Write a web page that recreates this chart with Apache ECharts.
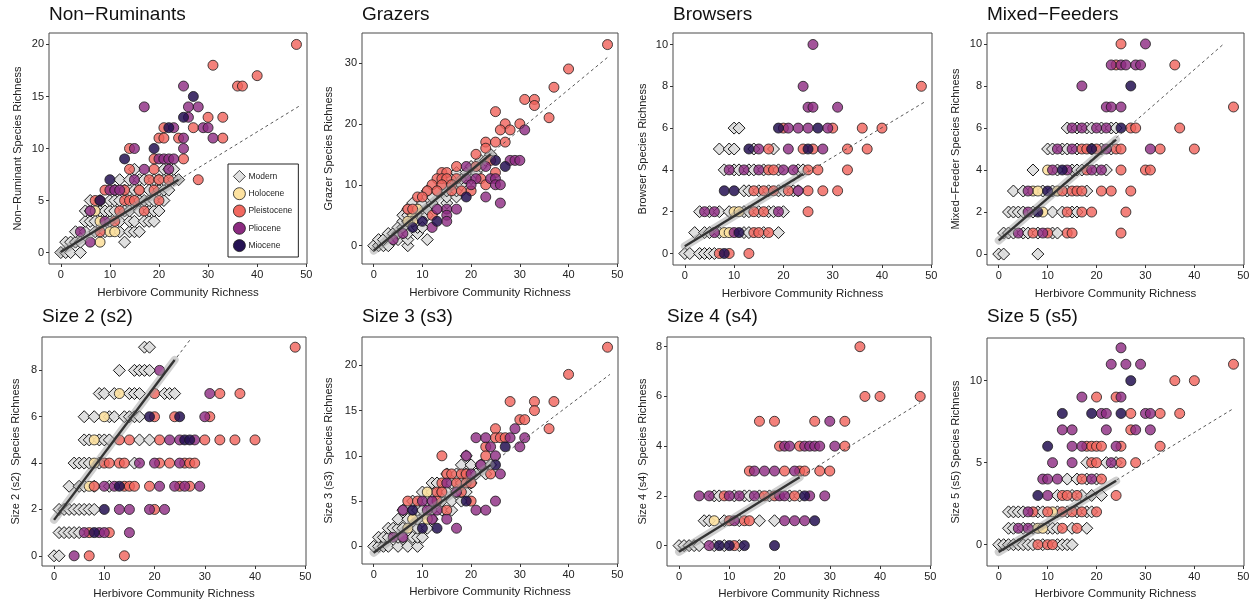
<!DOCTYPE html>
<html>
<head>
<meta charset="utf-8" />
<title>Herbivore richness panels</title>
<script src="https://cdn.jsdelivr.net/npm/echarts@6/dist/echarts.min.js"></script>
<style>
    * { margin: 0; padding: 0; box-sizing: border-box; }
    body { background: #fff; }
    #chart { width: 1259px; height: 608px; }
</style>
</head>
<body>
<div id="chart"></div>
<script>
// ---- labels ----
const panelTitles = ['Non\u2212Ruminants', 'Grazers', 'Browsers', 'Mixed\u2212Feeders', 'Size 2 (s2)', 'Size 3 (s3)', 'Size 4 (s4)', 'Size 5 (s5)'];
const yNames = ['Non\u2212Ruminant Species Richness', 'Grazer Species Richness', 'Browser Species Richness', 'Mixed\u2212Feeder Species Richness',
    'Size 2 (s2)  Species Richness', 'Size 3 (s3)  Species Richness', 'Size 4 (s4)  Species Richness', 'Size 5 (s5) Species Richness'];
const xName = 'Herbivore Community Richness';
const epochs = ['Modern', 'Holocene', 'Pleistocene', 'Pliocene', 'Miocene'];
const xTicks = [0, 10, 20, 30, 40, 50];
const yTicks = [[0, 5, 10, 15, 20], [0, 10, 20, 30], [0, 2, 4, 6, 8, 10], [0, 2, 4, 6, 8, 10], [0, 2, 4, 6, 8], [0, 5, 10, 15, 20], [0, 2, 4, 6, 8], [0, 5, 10]];

// ---- Non-Ruminants ----  modern rows are [y, [x...]]
const nrModern = [[0, [0, 1, 2, 4]], [1, [1, 2, 3, 4, 13]], [2, [3, 5, 7, 9, 12, 14, 15, 16]], [3, [5, 6, 7, 10, 12, 14, 15, 17, 18, 19]],
    [4, [5, 6, 8, 9, 10, 11, 13, 14, 16, 18, 19, 20]], [5, [6, 8, 10, 11, 12, 16, 17, 18, 19, 21]], [6, [11, 13, 14, 15, 16, 18, 20, 21, 22]],
    [7, [12, 14, 16, 17, 19, 20, 21, 23, 24]], [8, [15, 21, 22, 23]]];
const nrHolocene = [[7, 4], [8, 3], [10, 2], [11, 2], [8, 1]];
const nrPleistocene = [[48, 20], [31, 18], [40, 17], [36, 16], [37, 16], [30, 13], [33, 13], [21, 12], [27, 12], [20, 11], [21, 11], [24, 11], [33, 11],
    [14, 10], [19, 9], [25, 9], [14, 8], [19, 8], [18, 7], [20, 7], [22, 7], [28, 7], [9, 6], [13, 6], [16, 6], [19, 6], [7, 5], [8, 5], [13, 5], [14, 5],
    [15, 5], [20, 5], [12, 4], [17, 4], [11, 3], [8, 2]];
const nrPliocene = [[25, 16], [17, 14], [26, 14], [28, 14], [26, 13], [23, 12], [29, 12], [30, 12], [25, 11], [31, 11], [15, 10], [25, 10], [20, 9],
    [21, 9], [22, 9], [23, 9], [17, 8], [22, 8], [15, 7], [10, 6], [11, 6], [12, 6], [6, 4], [9, 3], [4, 2], [6, 1]];
const nrMiocene = [[27, 15], [25, 13], [22, 12], [19, 10], [13, 9], [10, 7], [8, 5]];
const nrFit = [[0, 0.05], [24, 7.0]];
const nrTrend = [[0, 0.05], [49, 14.2]];

// ---- Grazers ----
const grModern = [[0, [0, 1, 2, 3, 7]], [1, [1, 2, 4, 5, 7, 11]], [2, [3, 4, 5, 7, 9]], [3, [5, 6, 9, 10]], [4, [6, 7, 8]], [5, [6, 7, 9, 11]],
    [6, [7, 9, 11, 13]], [7, [8, 10, 12, 15]], [8, [11, 12, 15, 17]], [9, [11, 13, 15, 17]], [10, [14, 16, 18]], [11, [16, 18, 20]],
    [12, [17, 19, 21]], [13, [20, 22]], [14, [22, 23]], [15, [24]]];
const grHolocene = [[8, 5], [9, 6], [8, 4], [7, 4]];
const grPleistocene = [[48, 33], [40, 29], [37, 26], [31, 24], [33, 24], [33, 23], [25, 22], [36, 21], [27, 20], [30, 20], [26, 19], [28, 19],
    [23, 17], [25, 17], [27, 17], [23, 16], [21, 15], [24, 14], [17, 13], [21, 13], [14, 12], [15, 12], [25, 12], [13, 11], [14, 11], [15, 11], [17, 11],
    [22, 11], [12, 10], [14, 10], [16, 10], [23, 10], [11, 9], [13, 9], [16, 9], [18, 9], [20, 9], [9, 8], [10, 8], [7, 6], [8, 6], [12, 5]];
const grPliocene = [[31, 19], [28, 14], [29, 14], [30, 14], [19, 13], [23, 13], [19, 11], [21, 11], [24, 11], [25, 11], [20, 10], [25, 10], [26, 10],
    [23, 8], [26, 7], [13, 6], [15, 6], [17, 6], [15, 5], [15, 4], [12, 3], [6, 2], [4, 1]];
const grMiocene = [[25, 14], [27, 13], [19, 8], [10, 4], [13, 4], [8, 3]];
const grFit = [[0, -0.8], [24, 15.0]];
const grTrend = [[0, -0.8], [48, 30.9]];

// ---- Browsers ----
const brModern = [[0, [0, 1, 3, 4, 5, 6]], [1, [2, 4, 5, 7, 12, 13, 16, 19]], [2, [3, 5, 7, 9, 12, 13, 15, 17, 18, 20]],
    [3, [12, 13, 15, 17, 19, 20, 22, 23]], [4, [8, 10, 11, 13, 14, 16, 19, 23, 24]], [5, [7, 9, 10, 14, 18]], [6, [10, 11]]];
const brHolocene = [[10, 2], [11, 2], [8, 1], [9, 1]];
const brPleistocene = [[48, 8], [20, 6], [30, 6], [36, 6], [40, 6], [17, 5], [24, 5], [26, 5], [33, 5], [37, 5], [17, 4], [18, 4], [25, 4], [27, 4],
    [33, 4], [14, 3], [16, 3], [18, 3], [21, 3], [25, 3], [28, 3], [31, 3], [14, 2], [16, 2], [25, 2], [14, 1], [15, 1], [17, 1], [7, 0], [9, 0], [13, 0]];
const brPliocene = [[26, 10], [24, 8], [25, 7], [26, 7], [31, 7], [21, 6], [23, 6], [25, 6], [29, 6], [15, 5], [21, 5], [28, 5], [9, 4], [12, 4],
    [15, 4], [20, 4], [22, 4], [23, 3], [4, 2], [6, 2], [19, 2], [6, 1], [10, 1]];
const brMiocene = [[19, 6], [27, 6], [13, 5], [25, 5], [8, 3], [10, 3], [11, 1], [8, 0]];
const brFit = [[0, 0.35], [24, 3.8]];
const brTrend = [[0, 0.35], [49, 7.3]];

// ---- Mixed-Feeders ----
const mfModern = [[0, [0, 1, 8]], [1, [1, 2, 3, 5, 6, 8, 11, 12]], [2, [2, 3, 4, 5, 7, 11, 13, 15, 16]], [3, [3, 5, 9, 11, 14, 18]],
    [4, [7, 12, 15, 16, 17, 20, 22]], [5, [10, 11, 13, 14, 16, 19, 21, 23]], [6, [14, 16, 18, 19, 21, 23, 24]]];
const mfHolocene = [[10, 4], [7, 3], [8, 3], [12, 3], [9, 2]];
const mfPleistocene = [[25, 10], [24, 9], [36, 9], [48, 7], [27, 6], [28, 6], [37, 6], [17, 5], [18, 5], [20, 5], [24, 5], [25, 5], [33, 5], [40, 5],
    [18, 4], [25, 4], [30, 4], [31, 4], [13, 3], [15, 3], [16, 3], [17, 3], [21, 3], [23, 3], [27, 3], [14, 2], [17, 2], [19, 2], [26, 2], [7, 1],
    [10, 1], [14, 1], [15, 1], [25, 1]];
const mfPliocene = [[30, 10], [23, 9], [25, 9], [26, 9], [28, 9], [29, 9], [17, 8], [22, 7], [23, 7], [25, 7], [15, 6], [17, 6], [20, 6], [22, 6],
    [12, 5], [15, 5], [22, 5], [31, 5], [11, 4], [14, 4], [19, 4], [21, 4], [6, 3], [6, 2], [4, 1], [9, 1]];
const mfMiocene = [[27, 8], [25, 6], [19, 5], [13, 4], [10, 3], [8, 2]];
const mfFit = [[0, 0.65], [24, 5.45]];
const mfTrend = [[0, 0.65], [46, 10.0]];

// ---- Size 2 ----
const s2Modern = [[0, [0, 1]], [1, [1, 2, 3, 4, 5]], [2, [1, 2, 3, 4, 5, 6, 7, 8]], [3, [3, 5, 6, 8, 11]], [4, [4, 5, 6, 7, 9, 16]],
    [5, [6, 7, 9, 10, 11, 17, 19]], [6, [6, 8, 11, 12, 14, 15, 16, 17]], [7, [9, 10, 12, 15, 16, 17, 22, 23, 24]], [8, [13, 16, 17, 18, 19]], [9, [18, 19]]];
const s2Holocene = [[13, 7], [10, 6], [8, 5], [8, 4], [7, 3]];
const s2Pleistocene = [[48, 9], [20, 7], [33, 7], [37, 7], [20, 6], [24, 6], [31, 6], [13, 5], [15, 5], [21, 5], [30, 5], [33, 5], [36, 5], [40, 5],
    [10, 4], [11, 4], [13, 4], [14, 4], [21, 4], [23, 4], [26, 4], [27, 4], [28, 4], [8, 3], [14, 3], [15, 3], [16, 3], [19, 3], [25, 3], [27, 3],
    [20, 2], [7, 1], [11, 1], [7, 0], [14, 0]];
const s2Pliocene = [[21, 8], [31, 7], [30, 6], [23, 5], [25, 5], [28, 5], [17, 4], [20, 4], [25, 4], [10, 3], [12, 3], [21, 3], [24, 3], [26, 3],
    [29, 3], [13, 2], [15, 2], [19, 2], [22, 2], [6, 1], [9, 1], [10, 1], [15, 1], [4, 0]];
const s2Miocene = [[19, 6], [25, 6], [26, 5], [27, 5], [13, 3], [10, 2], [8, 1]];
const s2Fit = [[0, 1.55], [24, 8.45]];
const s2Trend = [[0, 1.55], [27, 9.3]];

// ---- Size 3 ----
const s3Modern = [[0, [0, 1, 2, 3, 5, 7, 9]], [1, [1, 2, 3, 5, 6, 8, 9, 10]], [2, [3, 4, 5, 6, 9, 11]], [3, [5, 7, 9, 12]],
    [4, [6, 8, 9, 10, 12, 14, 16]], [5, [8, 11, 12, 14, 16, 18]], [6, [10, 12, 14, 15, 17, 18, 19]], [7, [12, 13, 16, 18, 20]],
    [8, [15, 17, 19, 21, 23]], [9, [18, 20, 22, 24]], [10, [19]]];
const s3Holocene = [[11, 6], [8, 3], [11, 3], [7, 2]];
const s3Pleistocene = [[48, 22], [40, 19], [28, 16], [33, 16], [37, 16], [33, 15], [30, 14], [31, 14], [25, 13], [36, 13], [25, 12], [26, 12],
    [27, 12], [23, 11], [14, 10], [23, 10], [15, 8], [16, 8], [18, 8], [19, 8], [24, 8], [14, 7], [17, 7], [19, 7], [20, 7], [13, 6], [14, 6], [18, 6],
    [7, 5], [9, 5], [13, 5], [20, 5], [15, 4]];
const s3Pliocene = [[29, 13], [21, 12], [23, 12], [28, 12], [31, 12], [24, 11], [30, 11], [19, 10], [25, 10], [22, 9], [20, 8], [26, 8], [15, 7],
    [17, 6], [10, 5], [12, 5], [25, 5], [6, 4], [11, 4], [13, 4], [21, 4], [23, 4], [12, 3], [15, 3], [17, 2], [4, 1], [6, 1]];
const s3Miocene = [[27, 11], [25, 9], [19, 5], [8, 4], [10, 2], [13, 2]];
const s3Fit = [[0, -0.7], [24, 9.0]];
const s3Trend = [[0, -0.7], [48.5, 19.0]];

// ---- Size 4 ----
const s4Modern = [[0, [0, 1, 2, 3, 4, 7, 9, 12]], [1, [5, 6, 9, 12, 16, 19]], [2, [7, 8, 11, 13, 14, 16, 18, 22, 24]]];
const s4Holocene = [[7, 1]];
const s4Pleistocene = [[36, 8], [37, 6], [40, 6], [48, 6], [16, 5], [19, 5], [27, 5], [33, 5], [20, 4], [24, 4], [33, 4], [14, 3], [21, 3], [24, 3],
    [25, 3], [28, 3], [30, 3], [9, 2], [17, 2], [19, 2], [23, 2], [10, 1], [13, 1], [14, 1], [11, 0]];
const s4Pliocene = [[30, 5], [21, 4], [22, 4], [25, 4], [26, 4], [27, 4], [28, 4], [31, 4], [15, 3], [17, 3], [19, 3], [23, 3], [4, 2], [6, 2],
    [10, 2], [12, 2], [15, 2], [20, 2], [21, 2], [26, 2], [29, 2], [11, 1], [21, 1], [23, 1], [25, 1], [6, 0]];
const s4Miocene = [[25, 2], [27, 1], [8, 0], [10, 0], [13, 0], [19, 0]];
const s4Fit = [[0, -0.25], [24, 2.75]];
const s4Trend = [[0, -0.25], [48, 5.75]];

// ---- Size 5 ----
const s5Modern = [[0, [0, 1, 2, 3, 4, 5, 6, 7, 9, 12, 13, 14, 15]], [1, [2, 3, 5, 7, 10, 11, 12, 15, 18]],
    [2, [2, 3, 4, 5, 8, 9, 12, 14, 16, 18, 19]], [3, [12, 15, 17, 19, 21]], [4, [14, 16, 18, 20]], [5, [18, 22, 24]]];
const s5Holocene = [[11, 2], [8, 1], [9, 1]];
const s5Pleistocene = [[48, 11], [36, 10], [40, 10], [20, 9], [24, 9], [27, 8], [33, 8], [37, 8], [27, 7], [18, 6], [19, 6], [20, 6], [21, 6],
    [25, 6], [33, 6], [19, 5], [20, 5], [25, 5], [28, 5], [17, 4], [21, 4], [13, 3], [14, 3], [16, 3], [24, 3], [7, 2], [10, 2], [13, 2], [15, 2],
    [17, 2], [20, 2], [13, 1], [16, 1], [8, 0], [10, 0], [11, 0]];
const s5Pliocene = [[25, 12], [23, 11], [26, 11], [29, 11], [17, 9], [25, 9], [21, 8], [22, 8], [30, 8], [31, 8], [13, 7], [15, 7], [22, 7], [28, 7],
    [31, 7], [15, 6], [17, 6], [24, 6], [11, 5], [15, 5], [23, 5], [9, 4], [10, 4], [12, 4], [19, 4], [10, 3], [6, 2], [4, 1], [6, 1]];
const s5Miocene = [[27, 10], [13, 8], [19, 8], [25, 8], [10, 6], [8, 3]];
const s5Fit = [[0, -0.45], [24, 3.9]];
const s5Trend = [[0, -0.45], [48, 8.3]];

// ---- layout ----
const grids = [
    { left: 49, top: 33, width: 258, height: 231 },
    { left: 362, top: 33, width: 256, height: 231 },
    { left: 673, top: 33, width: 259, height: 232 },
    { left: 987, top: 33, width: 257, height: 232 },
    { left: 42, top: 337, width: 264, height: 229 },
    { left: 362, top: 337, width: 256, height: 227 },
    { left: 667, top: 337, width: 264, height: 229 },
    { left: 987, top: 338, width: 257, height: 228 }
];
const yRanges = [[-1.1, 21.1], [-3.0, 34.9], [-0.55, 10.55], [-0.52, 10.52], [-0.44, 9.44], [-1.95, 23.13], [-0.82, 8.39], [-1.3, 12.6]];
const xRange = [-2.4, 50.15];
const yNameGaps = [26, 28, 25, 26, 21, 28, 19, 26];

const fillColors = {
    Modern: 'rgba(222,222,222,0.95)',
    Holocene: 'rgba(252,224,158,0.9)',
    Pleistocene: 'rgba(240,98,90,0.8)',
    Pliocene: 'rgba(140,41,129,0.8)',
    Miocene: 'rgba(36,16,82,0.85)'
};
const legendColors = { Modern: '#e0e0e0', Holocene: '#fde2a0', Pleistocene: '#f1685f', Pliocene: '#8b2a80', Miocene: '#251254' };

function expandRows(rows) {
    const out = [];
    rows.forEach(r => r[1].forEach(x => out.push([x, r[0]])));
    return out;
}

const panels = [
    [expandRows(nrModern), nrHolocene, nrPleistocene, nrPliocene, nrMiocene, nrFit, nrTrend],
    [expandRows(grModern), grHolocene, grPleistocene, grPliocene, grMiocene, grFit, grTrend],
    [expandRows(brModern), brHolocene, brPleistocene, brPliocene, brMiocene, brFit, brTrend],
    [expandRows(mfModern), mfHolocene, mfPleistocene, mfPliocene, mfMiocene, mfFit, mfTrend],
    [expandRows(s2Modern), s2Holocene, s2Pleistocene, s2Pliocene, s2Miocene, s2Fit, s2Trend],
    [expandRows(s3Modern), s3Holocene, s3Pleistocene, s3Pliocene, s3Miocene, s3Fit, s3Trend],
    [expandRows(s4Modern), s4Holocene, s4Pleistocene, s4Pliocene, s4Miocene, s4Fit, s4Trend],
    [expandRows(s5Modern), s5Holocene, s5Pleistocene, s5Pliocene, s5Miocene, s5Fit, s5Trend]
];

const font = "'Liberation Sans', Arial, Helvetica, sans-serif";
const titles = [], gridOpts = [], xAxes = [], yAxes = [], series = [];

panels.forEach((p, i) => {
    const g = grids[i];
    titles.push({
        text: panelTitles[i], left: g.left, top: i < 4 ? 5 : 307, padding: 0,
        textStyle: { fontFamily: font, fontSize: 19, fontWeight: 'normal', color: '#111' }
    });
    gridOpts.push({ left: g.left, top: g.top, width: g.width, height: g.height, show: true, borderColor: '#4a4a4a', borderWidth: 1, backgroundColor: '#fff' });
    xAxes.push({
        type: 'value', gridIndex: i, min: xRange[0], max: xRange[1],
        name: xName, nameLocation: 'middle', nameGap: i < 4 ? 23 : 22,
        nameTextStyle: { fontFamily: font, fontSize: 11.5, color: '#222' },
        axisLine: { show: false, onZero: false }, splitLine: { show: false },
        axisTick: { show: true, length: 3, customValues: xTicks, lineStyle: { color: '#333' } },
        axisLabel: { customValues: xTicks, fontFamily: font, fontSize: 11, color: '#222', margin: 5 }
    });
    yAxes.push({
        type: 'value', gridIndex: i, min: yRanges[i][0], max: yRanges[i][1],
        name: yNames[i], nameLocation: 'middle', nameGap: yNameGaps[i], nameRotate: 90,
        nameTextStyle: { fontFamily: font, fontSize: 11, color: '#222' },
        axisLine: { show: false, onZero: false }, splitLine: { show: false },
        axisTick: { show: true, length: 3, customValues: yTicks[i], lineStyle: { color: '#333' } },
        axisLabel: { customValues: yTicks[i], fontFamily: font, fontSize: 11, color: '#222', margin: 5 }
    });
    epochs.forEach((e, k) => {
        series.push({
            name: e, type: 'scatter', xAxisIndex: i, yAxisIndex: i, data: p[k],
            symbol: e === 'Modern' ? 'diamond' : 'circle',
            symbolSize: e === 'Modern' ? 12 : 10,
            itemStyle: { color: fillColors[e], borderColor: '#1a1a1a', borderWidth: e === 'Modern' ? 1 : 0.8, opacity: 1 },
            z: 2 + k, silent: true
        });
    });
    series.push({
        type: 'line', xAxisIndex: i, yAxisIndex: i, data: p[6], symbol: 'none', silent: true, z: 10,
        lineStyle: { color: '#444', width: 0.9, type: [3, 3] }
    });
    series.push({
        type: 'line', xAxisIndex: i, yAxisIndex: i, data: p[5], symbol: 'none', silent: true, z: 11,
        lineStyle: { color: 'rgba(150,150,150,0.45)', width: 8, cap: 'round' }
    });
    series.push({
        type: 'line', xAxisIndex: i, yAxisIndex: i, data: p[5], symbol: 'none', silent: true, z: 12,
        lineStyle: { color: '#333', width: 2.4 }
    });
});

const chart = echarts.init(document.getElementById('chart'), null, { renderer: 'canvas' });
chart.setOption({
    animation: false,
    backgroundColor: '#fff',
    title: titles,
    grid: gridOpts,
    xAxis: xAxes,
    yAxis: yAxes,
    legend: {
        orient: 'vertical', left: 228, top: 164, width: 70,
        padding: [6, 6, 5, 5], itemGap: 4.5, itemWidth: 12, itemHeight: 12,
        backgroundColor: '#fff', borderColor: '#222', borderWidth: 1, borderRadius: 0,
        selectedMode: false, z: 20,
        textStyle: { fontFamily: font, fontSize: 8.5, color: '#222', padding: [0, 0, 0, -2] },
        data: epochs.map(e => ({
            name: e, icon: e === 'Modern' ? 'diamond' : 'circle',
            itemStyle: { color: legendColors[e], borderColor: '#1a1a1a', borderWidth: 0.8 }
        }))
    },
    series: series
});
</script>
</body>
</html>
